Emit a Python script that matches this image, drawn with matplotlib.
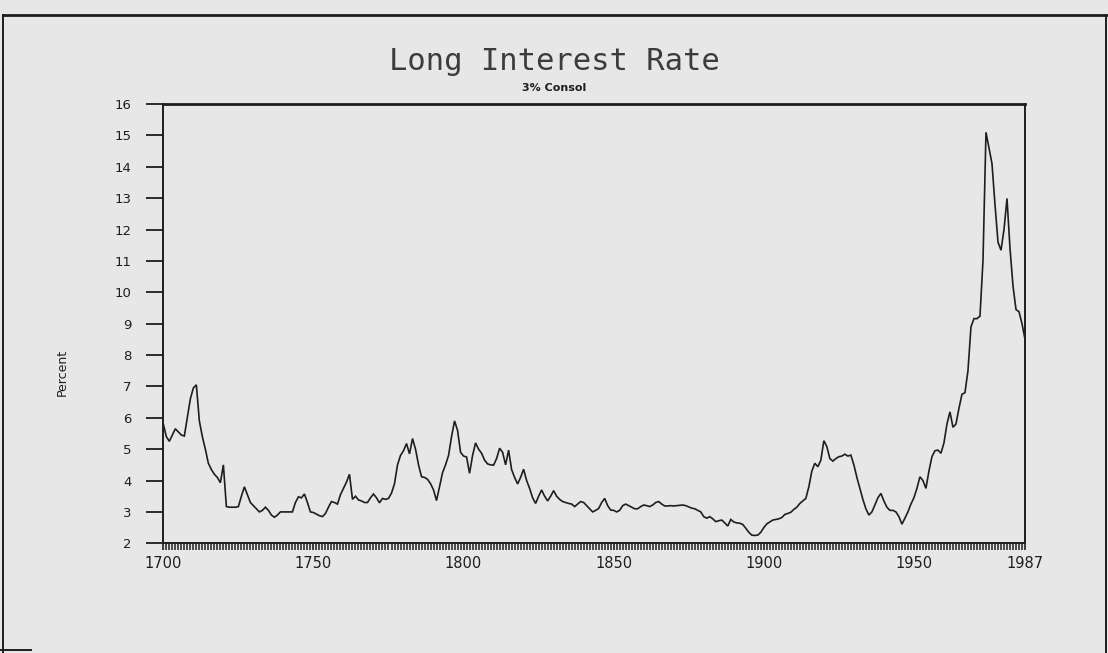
import numpy as np
import matplotlib
matplotlib.use("Agg")
import matplotlib.pyplot as plt
from matplotlib.lines import Line2D

# Yield on 3% Consols, annual, 1700-1987 (percent)
years = list(range(1700, 1988))
rate = [
    # 1700s
    5.80, 5.40, 5.25, 5.45, 5.65, 5.55, 5.45, 5.42, 6.00, 6.60,
    # 1710s
    6.95, 7.05, 5.90, 5.40, 5.00, 4.55, 4.35, 4.20, 4.10, 3.93,
    # 1720s
    4.50, 3.17, 3.15, 3.15, 3.15, 3.17, 3.50, 3.80, 3.55, 3.30,
    # 1730s
    3.20, 3.10, 3.00, 3.05, 3.15, 3.05, 2.90, 2.83, 2.90, 3.00,
    # 1740s
    3.00, 3.00, 3.00, 3.00, 3.30, 3.48, 3.45, 3.57, 3.30, 3.00,
    # 1750s
    2.98, 2.93, 2.88, 2.85, 2.95, 3.15, 3.33, 3.30, 3.25, 3.55,
    # 1760s
    3.75, 3.95, 4.20, 3.40, 3.50, 3.38, 3.35, 3.30, 3.30, 3.45,
    # 1770s
    3.57, 3.45, 3.29, 3.43, 3.40, 3.43, 3.60, 3.90, 4.50, 4.80,
    # 1780s
    4.95, 5.18, 4.85, 5.34, 5.00, 4.50, 4.12, 4.10, 4.04, 3.90,
    # 1790s
    3.70, 3.36, 3.80, 4.25, 4.50, 4.80, 5.40, 5.90, 5.60, 4.90,
    # 1800s
    4.78, 4.75, 4.23, 4.80, 5.20, 5.00, 4.87, 4.65, 4.53, 4.50,
    # 1810s
    4.49, 4.70, 5.03, 4.90, 4.50, 4.97, 4.35, 4.10, 3.89, 4.10,
    # 1820s
    4.36, 4.00, 3.75, 3.45, 3.27, 3.50, 3.70, 3.50, 3.35, 3.50,
    # 1830s
    3.68, 3.50, 3.40, 3.33, 3.30, 3.27, 3.25, 3.17, 3.25, 3.33,
    # 1840s
    3.30, 3.20, 3.10, 3.00, 3.05, 3.11, 3.30, 3.43, 3.20, 3.06,
    # 1850s
    3.05, 3.00, 3.05, 3.20, 3.25, 3.20, 3.15, 3.10, 3.10, 3.17,
    # 1860s
    3.22, 3.20, 3.17, 3.22, 3.30, 3.33, 3.25, 3.19, 3.19, 3.20,
    # 1870s
    3.19, 3.20, 3.21, 3.22, 3.20, 3.16, 3.12, 3.10, 3.05, 3.00,
    # 1880s
    2.85, 2.80, 2.85, 2.78, 2.69, 2.72, 2.74, 2.65, 2.55, 2.76,
    # 1890s
    2.68, 2.65, 2.64, 2.60, 2.48, 2.35, 2.26, 2.25, 2.26, 2.35,
    # 1900s
    2.50, 2.62, 2.68, 2.74, 2.76, 2.78, 2.82, 2.92, 2.95, 2.99,
    # 1910s
    3.08, 3.15, 3.27, 3.35, 3.43, 3.80, 4.30, 4.55, 4.44, 4.65,
    # 1920s
    5.27, 5.08, 4.70, 4.62, 4.70, 4.76, 4.78, 4.84, 4.78, 4.81,
    # 1930s
    4.50, 4.10, 3.75, 3.40, 3.10, 2.90, 3.00, 3.22, 3.45, 3.59,
    # 1940s
    3.35, 3.15, 3.05, 3.05, 3.00, 2.85, 2.61, 2.80, 3.00, 3.25,
    # 1950s
    3.45, 3.75, 4.12, 4.00, 3.75, 4.30, 4.76, 4.95, 4.97, 4.87,
    # 1960s
    5.20, 5.80, 6.19, 5.70, 5.80, 6.30, 6.75, 6.80, 7.50, 8.90,
    # 1970s
    9.16, 9.16, 9.24, 11.00, 15.10, 14.60, 14.10, 12.80, 11.60, 11.34,
    # 1980s
    12.00, 12.99, 11.40, 10.20, 9.45, 9.38, 9.00, 8.50,
]

x_tick_years = [1700, 1750, 1800, 1850, 1900, 1950, 1987]
y_ticks = list(range(2, 17))

paper = "#e7e7e7"
ink = "#1e1e1e"

fig = plt.figure(figsize=(11.08, 6.53), dpi=100, facecolor=paper)
ax = fig.add_axes([0.1474, 0.168, 0.7777, 0.6727], facecolor=paper)

ax.plot(years, rate, color=ink, lw=1.2, solid_joinstyle="miter")

ax.set_xlim(1700, 1987)
ax.set_ylim(2, 16)

ax.set_yticks(y_ticks)
ax.set_yticklabels([str(v) for v in y_ticks])
ax.set_xticks(x_tick_years)
ax.set_xticklabels([str(v) for v in x_tick_years])
ax.set_xticks(years, minor=True)

ax.tick_params(axis="y", direction="out", length=12, width=1.3, color=ink,
               labelsize=9.5, labelcolor=ink, pad=11)
ax.tick_params(axis="x", which="major", direction="out", length=5, width=1.2,
               color=ink, labelsize=10.5, labelcolor=ink, pad=4)
ax.tick_params(axis="x", which="minor", direction="out", length=5, width=1.1,
               color=ink)

for side in ["left", "right", "bottom"]:
    ax.spines[side].set_color(ink)
    ax.spines[side].set_linewidth(1.4)
ax.spines["top"].set_color(ink)
ax.spines["top"].set_linewidth(2.0)

fig.text(62 / 1108, 1 - 372 / 653, "Percent", rotation=90, ha="center",
         va="center", fontsize=9, color=ink)

fig.text(0.5, 1 - 62 / 653, "Long Interest Rate", ha="center", va="center",
         fontsize=22, color="#3c3c3c", family="DejaVu Sans Mono")
fig.text(0.5, 1 - 88 / 653, "3% Consol", ha="center", va="center",
         fontsize=8, color=ink, fontweight="bold")

# outer border of the page frame
frame_kw = dict(color=ink, lw=2.0, transform=fig.transFigure)
fig.add_artist(Line2D([0.003, 1.0], [1 - 15 / 653, 1 - 15 / 653], **frame_kw))
fig.add_artist(Line2D([0.003, 0.003], [1 - 15 / 653, 0.0], **dict(frame_kw, lw=1.4)))
fig.add_artist(Line2D([0.998, 0.998], [1 - 15 / 653, 0.0], **dict(frame_kw, lw=1.4)))
fig.add_artist(Line2D([0.0, 0.028], [3 / 653, 3 / 653], **dict(frame_kw, lw=1.4)))

fig.savefig("out.png", dpi=100, facecolor=paper)
